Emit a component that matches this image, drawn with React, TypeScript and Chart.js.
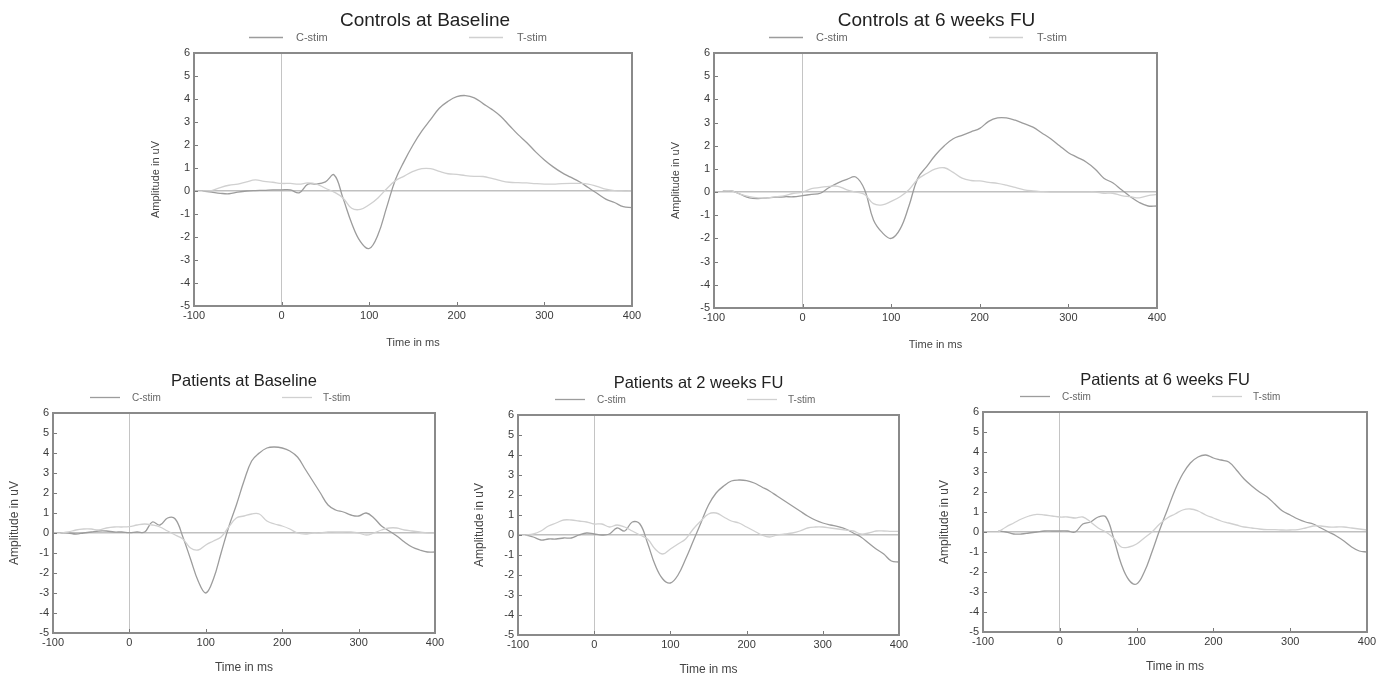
import React, { useEffect, useRef } from "react";
import { Chart, registerables } from "chart.js";

Chart.register(...registerables);

// ---------- data ----------
const TIME_MS = [
  -90, -80, -70, -60, -50, -40, -30, -20, -10, 0,
  10, 20, 30, 40, 50, 60, 70, 80, 90, 100,
  110, 120, 130, 140, 150, 160, 170, 180, 190, 200,
  210, 220, 230, 240, 250, 260, 270, 280, 290, 300,
  310, 320, 330, 340, 350, 360, 370, 380, 390, 400,
];

const X_TICKS = [-100, 0, 100, 200, 300, 400];
const Y_MIN = -5;
const Y_MAX = 6;
const SERIES_LABELS = ["C-stim", "T-stim"];
const X_TITLE = "Time in ms";
const Y_TITLE = "Amplitude in uV";

const CTRL_BASE_C = [
  0, -0.05, -0.1, -0.12, -0.05, 0, 0.02, 0.03, 0.05, 0.05,
  0.05, -0.08, 0.3, 0.3, 0.4, 0.7, -0.3, -1.4, -2.2, -2.5,
  -1.9, -0.7, 0.5, 1.3, 2.0, 2.6, 3.1, 3.6, 3.9, 4.1,
  4.15, 4.05, 3.8, 3.55, 3.25, 2.85, 2.45, 2.1, 1.7, 1.35,
  1.05, 0.8, 0.6, 0.4, 0.15, -0.1, -0.35, -0.5, -0.68, -0.72,
];
const CTRL_BASE_T = [
  0, 0.02, 0.15, 0.25, 0.3, 0.4, 0.48, 0.42, 0.38, 0.33,
  0.33, 0.3, 0.35, 0.3, 0.12, -0.05, -0.3, -0.75, -0.8, -0.6,
  -0.3, 0.1, 0.45, 0.65, 0.85, 0.97, 0.97, 0.85, 0.75, 0.72,
  0.67, 0.64, 0.63, 0.55, 0.45, 0.38, 0.36, 0.35, 0.32, 0.3,
  0.3, 0.32, 0.33, 0.33, 0.3, 0.2, 0.08, 0.02, 0, 0,
];

const CTRL_6W_C = [
  0.05, 0.05, -0.1, -0.25, -0.28, -0.25, -0.22, -0.2, -0.2, -0.15,
  -0.1, -0.05, 0.2, 0.4, 0.55, 0.65, 0.1, -1.2, -1.75, -2.0,
  -1.6, -0.6, 0.6, 1.1, 1.6, 2.0, 2.3, 2.45, 2.6, 2.75,
  3.05, 3.2, 3.2, 3.1, 2.95, 2.8, 2.55, 2.3, 2.0, 1.7,
  1.5, 1.3, 1.0, 0.6, 0.4, 0.1, -0.2, -0.45, -0.6, -0.6,
];
const CTRL_6W_T = [
  0.05, 0.05, -0.1, -0.2, -0.25, -0.25, -0.2, -0.15, -0.05, 0.0,
  0.15, 0.2, 0.25, 0.25, 0.1, 0.0, -0.1, -0.5, -0.55, -0.4,
  -0.2, 0.1, 0.55, 0.8, 1.0, 1.05, 0.85, 0.6, 0.5, 0.48,
  0.42, 0.38, 0.3, 0.2, 0.1, 0.05, 0.02, 0.0, 0.0, 0.0,
  0.0, 0.0, 0.0, -0.05, -0.05, -0.15, -0.2, -0.25, -0.15, -0.1,
];

const PAT_BASE_C = [
  0, 0, -0.05, 0.0, 0.05, 0.1, 0.1, 0.05, 0.05, 0.02,
  0.05, 0.05, 0.55, 0.4, 0.75, 0.7, -0.2, -1.3, -2.4, -3.0,
  -2.3, -1.0, 0.3, 1.4, 2.6, 3.6, 4.0, 4.25, 4.3, 4.25,
  4.1, 3.8, 3.2, 2.6, 2.0, 1.4, 1.15, 1.05, 0.9, 0.85,
  1.0, 0.75, 0.35, 0.1, -0.15, -0.45, -0.7, -0.85, -0.95, -0.95,
];
const PAT_BASE_T = [
  0, 0.05, 0.15, 0.2, 0.2, 0.15, 0.25, 0.3, 0.3, 0.32,
  0.4, 0.45, 0.4, 0.3, 0.1, -0.1, -0.3, -0.75, -0.85, -0.6,
  -0.4, -0.2, 0.3, 0.75, 0.85, 0.95, 0.95, 0.6, 0.45, 0.35,
  0.2, 0.0, -0.05, 0.0, 0.0, 0.05, 0.05, 0.05, 0.05, 0.0,
  -0.1, 0.0, 0.15, 0.25, 0.25, 0.15, 0.1, 0.05, 0.0, 0.0,
];

const PAT_2W_C = [
  0, -0.1, -0.25, -0.2, -0.2, -0.15, -0.15, 0.0, 0.1, 0.05,
  0.0, 0.05, 0.35, 0.2, 0.65, 0.55, -0.4, -1.5, -2.2, -2.4,
  -2.0, -1.2, -0.3, 0.6, 1.5, 2.1, 2.45, 2.7, 2.75, 2.72,
  2.6, 2.4, 2.2, 1.95, 1.7, 1.45, 1.2, 0.95, 0.75, 0.6,
  0.5, 0.42, 0.3, 0.1, -0.1, -0.4, -0.7, -0.95, -1.3, -1.35,
];
const PAT_2W_T = [
  0.0, 0.05, 0.2, 0.45, 0.6, 0.75, 0.75, 0.7, 0.65, 0.55,
  0.55, 0.4, 0.5, 0.4, 0.2, 0.0, -0.2, -0.7, -0.95, -0.7,
  -0.45, -0.2, 0.3, 0.7, 1.05, 1.1, 0.9, 0.7, 0.6, 0.4,
  0.2, 0.0, -0.1, 0.0, 0.05, 0.1, 0.2, 0.35, 0.4, 0.4,
  0.35, 0.3, 0.25, 0.2, 0.05, 0.1, 0.2, 0.2, 0.18, 0.18,
];

const PAT_6W_C = [
  null, 0.05, 0.0, -0.1, -0.1, -0.05, 0.0, 0.05, 0.05, 0.05,
  0.05, 0.0, 0.4, 0.5, 0.75, 0.75, -0.3, -1.6, -2.4, -2.6,
  -2.0, -1.0, 0.1, 1.1, 2.1, 2.9, 3.45, 3.75, 3.85, 3.7,
  3.6, 3.5, 3.1, 2.65, 2.3, 2.0, 1.75, 1.4, 1.05, 0.85,
  0.65, 0.5, 0.4, 0.2, 0.0, -0.2, -0.45, -0.75, -0.95, -1.0,
];
const PAT_6W_T = [
  null, 0.0, 0.25, 0.45, 0.65, 0.8, 0.88, 0.85, 0.8, 0.75,
  0.75, 0.7, 0.75, 0.5, 0.2, 0.0, -0.3, -0.75, -0.75, -0.6,
  -0.3, 0.0, 0.4, 0.7, 0.9, 1.1, 1.15, 1.05, 0.85, 0.7,
  0.55, 0.45, 0.35, 0.25, 0.2, 0.15, 0.12, 0.12, 0.1, 0.1,
  0.12, 0.2, 0.3, 0.3, 0.25, 0.25, 0.25, 0.2, 0.15, 0.1,
];

const PANEL_TITLES = [
  "Controls at Baseline",
  "Controls at 6 weeks FU",
  "Patients at Baseline",
  "Patients at 2 weeks FU",
  "Patients at 6 weeks FU",
];
const PANEL_C = [CTRL_BASE_C, CTRL_6W_C, PAT_BASE_C, PAT_2W_C, PAT_6W_C];
const PANEL_T = [CTRL_BASE_T, CTRL_6W_T, PAT_BASE_T, PAT_2W_T, PAT_6W_T];

// ---------- layout / style ----------
// plot box [left, top, right, bottom] in page pixels
const PANEL_BOX = [
  [194, 53, 632, 306],
  [714, 53, 1157, 308],
  [53, 413, 435, 633],
  [518, 415, 899, 635],
  [983, 412, 1367, 632],
];
const PANEL_BIG = [true, true, false, false, false];
const PANEL_TITLE_DX = [12, 1, 0, -10, -10];

const FONT = "'Liberation Sans', Arial, Helvetica, sans-serif";
const C_COLOR = "#9c9c9c";
const T_COLOR = "#d0d0d0";
const YW = 50;
const PT = 45;
const PR = 15;

Chart.defaults.font.family = FONT;

function Panel({ idx }: { idx: number }) {
  const ref = useRef<HTMLCanvasElement | null>(null);
  const [L, T, R, B] = PANEL_BOX[idx];
  const big = PANEL_BIG[idx];
  const axisFs = big ? 11 : 12;
  const xTitleDist = big ? 37 : 35;
  const XH = 46;
  const w = YW + (R - L) + PR;
  const h = PT + (B - T) + XH;

  useEffect(() => {
    if (!ref.current) return;
    const titleDx = PANEL_TITLE_DX[idx];
    const lh = axisFs * 1.2;
    const decor = {
      id: "decor" + idx,
      afterDatasetsDraw(chart: any) {
        const { ctx, chartArea, scales } = chart;
        const { left, top, right, bottom } = chartArea;
        const xs = scales.x;
        const ys = scales.y;
        ctx.save();
        // inward ticks
        ctx.strokeStyle = "#7a7a7a";
        ctx.lineWidth = 1;
        ctx.beginPath();
        xs.ticks.forEach((t: any) => {
          const px = Math.round(xs.getPixelForValue(t.value)) + 0.5;
          if (px > left + 3 && px < right - 3) {
            ctx.moveTo(px, bottom);
            ctx.lineTo(px, bottom - 4);
          }
        });
        ys.ticks.forEach((t: any) => {
          const py = Math.round(ys.getPixelForValue(t.value)) + 0.5;
          if (py > top + 3 && py < bottom - 3) {
            ctx.moveTo(left, py);
            ctx.lineTo(left + 4, py);
          }
        });
        ctx.stroke();
        // frame
        ctx.strokeStyle = "#8a8a8a";
        ctx.lineWidth = 2;
        ctx.strokeRect(left, top, right - left, bottom - top);
        // title
        ctx.fillStyle = "#222";
        ctx.textAlign = "center";
        ctx.textBaseline = "middle";
        ctx.font = `${big ? 19 : 16.5}px ${FONT}`;
        ctx.fillText(PANEL_TITLES[idx], (left + right) / 2 + titleDx, top - (big ? 32 : 32));
        // legend
        const ly = top - 16;
        const lo = big
          ? { c0: 55, c1: 89, ct: 102, t0: 275, t1: 309, tt: 323, fs: 11 }
          : { c0: 37, c1: 67, ct: 79, t0: 229, t1: 259, tt: 270, fs: 10 };
        ctx.lineWidth = 1.3;
        ctx.strokeStyle = C_COLOR;
        ctx.beginPath();
        ctx.moveTo(left + lo.c0, ly + 0.5);
        ctx.lineTo(left + lo.c1, ly + 0.5);
        ctx.stroke();
        ctx.strokeStyle = T_COLOR;
        ctx.beginPath();
        ctx.moveTo(left + lo.t0, ly + 0.5);
        ctx.lineTo(left + lo.t1, ly + 0.5);
        ctx.stroke();
        ctx.fillStyle = "#666";
        ctx.textAlign = "left";
        ctx.font = `${lo.fs}px ${FONT}`;
        ctx.fillText(SERIES_LABELS[0], left + lo.ct, ly + 1);
        ctx.fillText(SERIES_LABELS[1], left + lo.tt, ly + 1);
        ctx.restore();
      },
    };

    const toPts = (arr: (number | null)[]) => TIME_MS.map((t, i) => ({ x: t, y: arr[i] }));

    const chart = new Chart(ref.current, {
      type: "line",
      data: {
        datasets: [
          {
            label: SERIES_LABELS[1],
            data: toPts(PANEL_T[idx]),
            borderColor: T_COLOR,
            borderWidth: 1.3,
            pointRadius: 0,
            tension: 0.4,
            spanGaps: false,
          },
          {
            label: SERIES_LABELS[0],
            data: toPts(PANEL_C[idx]),
            borderColor: C_COLOR,
            borderWidth: 1.3,
            pointRadius: 0,
            tension: 0.4,
            spanGaps: false,
          },
        ],
      },
      options: {
        animation: false,
        responsive: false,
        devicePixelRatio: 1,
        layout: { padding: { left: 0, top: PT, right: PR, bottom: 0 } },
        plugins: {
          legend: { display: false },
          title: { display: false },
          tooltip: { enabled: false },
        },
        scales: {
          x: {
            type: "linear",
            min: X_TICKS[0],
            max: X_TICKS[X_TICKS.length - 1],
            afterBuildTicks: (scale: any) => {
              scale.ticks = X_TICKS.map((v) => ({ value: v }));
            },
            afterFit: (scale: any) => {
              scale.height = XH;
            },
            ticks: {
              color: "#3a3a3a",
              font: { size: 11, family: FONT },
              padding: 3,
              maxRotation: 0,
              autoSkip: false,
            },
            grid: {
              drawTicks: false,
              color: (c: any) => (c.tick && c.tick.value === 0 ? "#c4c4c4" : "rgba(0,0,0,0)"),
              lineWidth: 1,
            },
            border: { display: false },
            title: {
              display: true,
              text: X_TITLE,
              color: "#444",
              font: { size: axisFs, family: FONT },
              padding: { top: 0, bottom: Math.max(0, XH - xTitleDist - lh / 2) },
            },
          },
          y: {
            type: "linear",
            min: Y_MIN,
            max: Y_MAX,
            afterFit: (scale: any) => {
              scale.width = YW;
            },
            ticks: {
              stepSize: 1,
              color: "#3a3a3a",
              font: { size: 11, family: FONT },
              padding: 4,
            },
            grid: {
              drawTicks: false,
              color: (c: any) => (c.tick && c.tick.value === 0 ? "#c0c0c0" : "rgba(0,0,0,0)"),
              lineWidth: 1.5,
            },
            border: { display: false },
            title: {
              display: true,
              text: Y_TITLE,
              color: "#444",
              font: { size: axisFs, family: FONT },
              padding: { top: Math.max(0, YW - 38 - lh / 2), bottom: 0 },
            },
          },
        },
      },
      plugins: [decor],
    } as any);
    return () => chart.destroy();
  }, [idx]);

  return (
    <canvas
      ref={ref}
      width={w}
      height={h}
      style={{ position: "absolute", left: L - YW, top: T - PT, width: w, height: h }}
    />
  );
}

export default function App() {
  return (
    <div
      style={{
        position: "absolute",
        left: 0,
        top: 0,
        width: 1386,
        height: 679,
        background: "#fff",
        overflow: "hidden",
      }}
    >
      {PANEL_TITLES.map((_, i) => (
        <Panel key={i} idx={i} />
      ))}
    </div>
  );
}
